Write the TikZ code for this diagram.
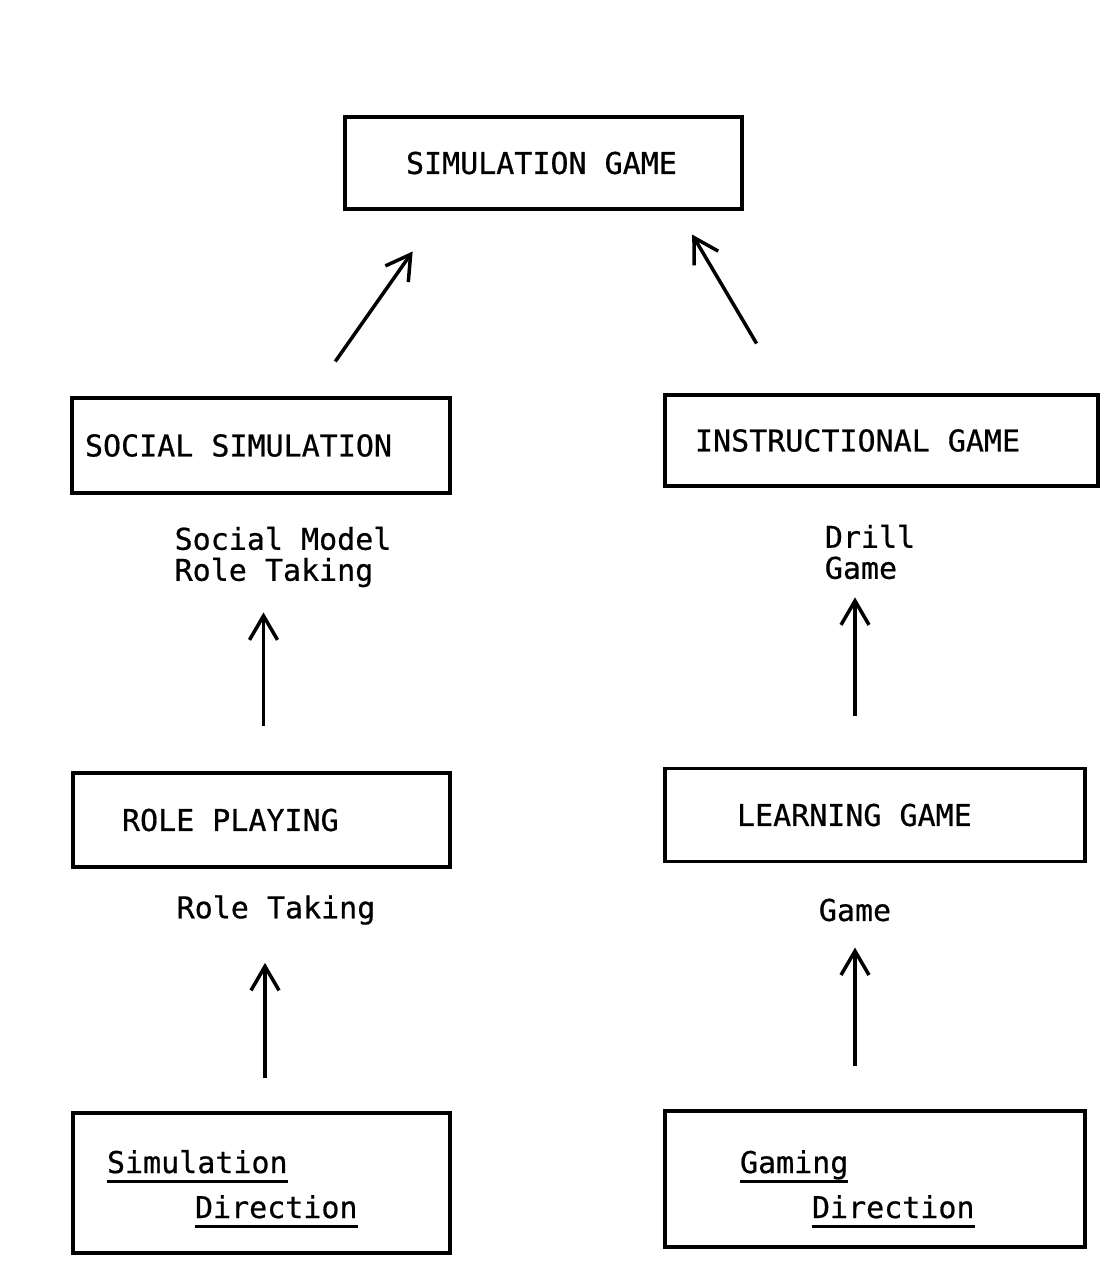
\documentclass[tikz,border=0pt]{standalone}
\usepackage{fontspec}
\usepackage{tikz}
\usetikzlibrary{positioning,arrows.meta,calc}
\newfontfamily\mono[UprightFeatures={FakeBold=0.6}]{DejaVu Sans Mono}
\newcommand{\boxfont}{\mono\fontsize{30}{45}\selectfont}
\newcommand{\gap}{\hspace*{0.602em}}
\newcommand{\ulbox}[1]{\setbox0=\hbox{#1}\rlap{\rule[-10pt]{\wd0}{3.5pt}}\box0}

\tikzset{
  box/.style={draw,line width=3.5pt,rectangle,inner ysep=0pt,align=left,font=\boxfont},
  lbl/.style={inner sep=0pt,align=left,font={\mono\fontsize{30}{31}\selectfont}},
  arr/.style={->,line width=3.5pt},
  >={Straight Barb[length=24pt,width=28pt]}
}

\begin{document}
\begin{tikzpicture}[x=1pt,y=-1pt]
\useasboundingbox (0,0) rectangle (1103,1267);

% boxes
\node[box,minimum width=397pt,minimum height=92pt,inner xsep=61pt,text width=275pt] (sg) at (543.5,163) {SIMULATION\gap GAME};
\node[box,minimum width=378pt,minimum height=95pt,inner xsep=13pt,text width=352pt] (ss) at (261,445.5) {SOCIAL\gap SIMULATION};
\node[box,minimum width=433pt,minimum height=91pt,inner xsep=30pt,text width=373pt] (ig) at (881.5,440.5) {INSTRUCTIONAL\gap GAME};
\node[box,minimum width=377pt,minimum height=94pt,inner xsep=49pt,text width=279pt] (rp) at (261.5,820) {ROLE\gap PLAYING};
\node[box,minimum width=420pt,minimum height=93pt,inner xsep=72pt,text width=276pt] (lg) at (875,815) {LEARNING\gap GAME};
\node[box,minimum width=377pt,minimum height=140pt,inner xsep=34pt,text width=309pt] (sd) at (261.5,1183)
  {\rule{0pt}{35pt}\ulbox{Simulation}\\\hspace*{88pt}\ulbox{Direction}};
\node[box,minimum width=420pt,minimum height=136pt,inner xsep=75pt,text width=270pt] (gd) at (875,1179)
  {\rule{0pt}{43pt}\ulbox{Gaming}\\\hspace*{72pt}\ulbox{Direction}};

% labels
\node[lbl] (smrt) at (283,557) {Social Model\\Role Taking};
\node[lbl] (dg) at (870,552) {Drill\\Game};
\node[lbl] (rt) at (276,910) {Role Taking};
\node[lbl] (gm) at (855,910) {Game};

% arrows
\draw[arr,shorten <=42.5pt,shorten >=49.8pt] ([xshift=49.8pt]ss.north) -- ([xshift=-102.2pt]sg.south);
\draw[arr,shorten <=57.8pt,shorten >=27.7pt] ([xshift=-95.5pt]ig.north) -- ([xshift=134.6pt]sg.south);
\draw[arr,shorten <=45pt,shorten >=25pt] ([xshift=2pt]rp.north) -- ([xshift=2pt]rp.north |- smrt.south);
\draw[arr,shorten <=51pt,shorten >=18pt] ([xshift=-20pt]lg.north) -- ([xshift=-20pt]lg.north |- dg.south);
\draw[arr,shorten <=33pt,shorten >=38pt] ([xshift=3.5pt]sd.north) -- ([xshift=3.5pt]sd.north |- rt.south);
\draw[arr,shorten <=43pt,shorten >=26pt] ([xshift=-20pt]gd.north) -- ([xshift=-20pt]gd.north |- gm.south);

\end{tikzpicture}
\end{document}
